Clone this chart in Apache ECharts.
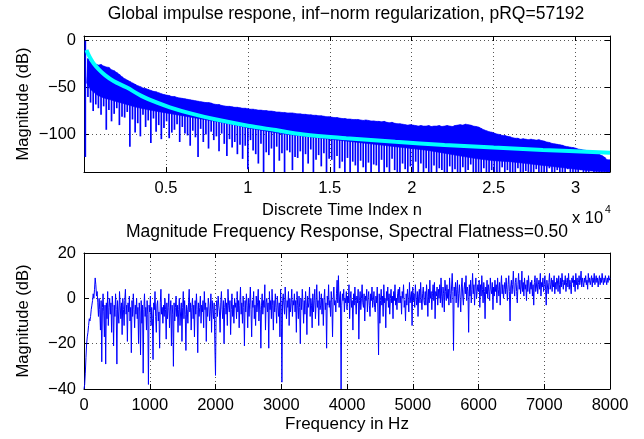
<!DOCTYPE html>
<html><head><meta charset="utf-8">
<script src="https://cdn.jsdelivr.net/npm/echarts@6/dist/echarts.min.js"></script>
<style>html,body{margin:0;padding:0;background:#fff}#c{width:644px;height:439px}</style>
</head><body><div id="c"></div>
<script>
const FONT = '"Liberation Sans", Arial, Helvetica, sans-serif';

// ---------- Top panel: impulse response, per bin of 160 samples: max (topHi) and min (topLo) ----------
const topBinSize = 160;
const topHi = [
  0,-19,-23,-24,-25,-26,-25.5,-27,-28,-28.5,
  -31,-32,-34,-36,-38.5,-40.5,-42,-43.5,-45,-46.5,
  -48,-49,-50.5,-51,-52,-53,-54,-54.5,-55.5,-56.5,
  -57.5,-58,-58.5,-59.5,-59.5,-60.5,-61,-61.5,-62,-62.5,
  -63,-63.5,-64,-64.5,-65,-65.5,-66,-66,-66.5,-67.5,
  -68,-68,-69,-69.5,-70,-70,-70.5,-71,-71,-71.5,
  -72,-72,-72.5,-73,-73,-73.5,-74,-74,-74.5,-74.5,
  -75,-75,-75.5,-76,-76,-76.5,-76.5,-77,-77,-77,
  -77.5,-78,-78,-78.5,-78.5,-79,-79,-79.5,-79.5,-80,
  -80,-80.5,-81,-81,-81.5,-82,-82,-82.5,-83,-83,
  -83.5,-83.5,-84,-84,-84,-84.5,-85,-84.5,-85,-85.5,
  -85.5,-86,-86,-86.5,-86,-87,-87.5,-87,-88,-88.5,
  -88.5,-89,-89.5,-90,-89.5,-90,-90.5,-91,-90.5,-91,
  -91,-90.5,-91.5,-91,-91,-90.5,-91.5,-91,-90.5,-91,
  -91.5,-90.5,-90,-89.5,-90,-89,-89.5,-90,-91,-91.5,
  -92,-93.5,-95,-96,-97,-97.5,-98.5,-99.5,-100,-101,
  -101,-102,-102.5,-103.5,-104,-104,-105,-104.5,-105,-105.5,
  -105,-105.5,-106,-105.5,-106.5,-107,-108,-108.5,-109.5,-110,
  -110.5,-111,-111.5,-112.5,-113,-113.5,-114,-114.5,-115.5,-116,
  -116.5,-117,-117.5,-118,-119,-119.5,-121,-122.5,-124,-127
];
const topLo = [
  -124,-60,-66,-75,-68,-72,-79,-70,-95,-74,
  -86,-78,-72,-90,-81,-82,-76,-113,-84,-98,
  -88,-102,-79,-92,-85,-109,-83,-97,-90,-105,
  -93,-86,-104,-98,-95,-89,-108,-92,-99,-101,
  -112,-96,-103,-124,-94,-108,-100,-115,-97,-106,
  -102,-118,-99,-110,-123,-105,-114,-108,-121,-111,
  -126,-112,-137,-106,-117,-121,-131,-110,-140,-119,
  -122,-115,-140,-113,-128,-120,-140,-117,-119,-138,
  -124,-125,-118,-140,-121,-131,-116,-140,-127,-122,
  -134,-120,-140,-126,-127,-140,-123,-136,-129,-140,
  -125,-140,-129,-133,-140,-128,-135,-140,-130,-140,
  -132,-133,-140,-127,-140,-135,-140,-126,-138,-140,
  -140,-131,-137,-140,-134,-140,-129,-140,-131,-140,
  -136,-140,-140,-133,-140,-136,-138,-140,-140,-134,
  -140,-137,-140,-140,-135,-140,-138,-132,-140,-140,
  -140,-140,-136,-140,-140,-138,-140,-140,-140,-135,
  -140,-138,-140,-140,-140,-136,-140,-140,-139,-140,
  -140,-140,-137,-140,-140,-140,-140,-136,-140,-140,
  -138,-140,-140,-140,-137,-140,-140,-140,-140,-138,
  -140,-140,-140,-139,-140,-140,-140,-140,-140,-140
];
// lower edge of the densely filled part of the band
const solidN  = [160,400,800,1200,1600,2000,2600,3200,4000,5000,6000,7000,8000,9000,10000,11000,12000,13000,14000,15000,16000,17000,18000,19000,20000,21000,22000,23000,24000,25000,26000,27000,28000,29000,30000,31000,32100];
const solidDb = [-45,-52,-58,-61,-63,-65,-68,-71,-74,-77,-80,-83,-86,-89,-93,-96,-99,-101,-103,-105,-107,-109,-111,-113,-115,-117,-120,-123,-126,-128,-129,-131,-133,-135,-137,-139,-140];
// cyan envelope curve
const envN  = [150,250,400,600,900,1300,1800,2620,3500,4500,5240,6500,8000,10000,11700,13400,16000,19000,22000,25000,28000,32100];
const envDb = [-10,-14,-19,-24.5,-30.5,-37,-43,-50,-58.8,-66.4,-71,-77.5,-83.8,-90.6,-95.3,-100,-104,-107.8,-111.1,-114,-116.5,-119.5];
const topXMax = 32100;
const topXTicks = [5000,10000,15000,20000,25000,30000];
const topYTicks = [-100,-50,0];

// ---------- Bottom panel: magnitude frequency response (10 Hz steps) ----------
const freqStep = 10;
const freqDb = [
  -40,-38,-33,-26,-20,-17,-15,-12,-9,-10,-8,-5,-3,-1,2,0,4,9,6,1,3,-2,-8,0,-5,-14,-1,-28,-4,2,-6,-17,-3,-29,-2,-9,3,-12,-4,0,
  -7,-2,-15,1,-4,-21,-3,-8,2,-5,-29,-1,-6,-11,3,-3,-9,-2,-16,0,-5,-12,-1,4,-7,-3,-19,-2,-6,1,-10,-4,-24,-1,-8,2,-5,-13,-3,-7,
  0,-9,-4,-20,-2,-6,-25,-1,-11,-3,-33,-5,2,-8,-4,-14,-1,-7,-38,-3,-6,1,-12,-4,-9,-27,-2,-5,3,-8,-15,-3,-1,-10,-6,-22,-2,4,-7,-4,
  -11,-3,-8,0,-5,-18,-2,-9,-4,2,-13,-6,-1,-21,-3,-7,-30,-2,-10,-4,1,-8,-3,-15,-5,0,-12,-6,-2,-19,-4,3,-9,-1,-7,-23,-3,-5,-11,-2,
  4,-6,-2,-14,-4,0,-9,-3,-17,-1,-7,2,-5,-24,-2,-8,-4,1,-11,-3,-6,-1,-13,3,-5,-2,-19,-4,-8,0,-3,-10,-6,2,-15,-1,-5,-9,-2,-20,
  -34,-4,-1,-8,1,-3,-6,-15,-2,3,-5,-9,-1,-20,-4,0,-7,-2,-12,4,-3,-6,-1,-16,-5,2,-8,-3,-11,0,-4,-2,-9,3,-6,-1,-13,-3,5,-7,
  -2,-11,1,-4,-21,-1,-6,2,-3,-13,0,-8,-2,5,-5,-17,-1,-4,3,-9,-3,-12,1,-6,-2,4,-10,-1,-5,-22,-3,2,-7,-1,-4,6,-14,-2,0,-6,
  -2,-22,3,-5,-1,-9,4,-3,-14,-1,-6,2,-4,-11,1,-3,-8,-2,-17,4,-5,-37,-1,2,-3,-7,5,-2,-9,-1,-4,3,-12,0,-6,-2,4,-8,-1,-3,
  2,-6,-1,-15,3,-3,-9,1,-4,-20,0,-5,4,-2,-11,-1,-7,3,-3,-16,1,-4,-2,5,-8,0,-3,-13,2,-6,-1,4,-9,-2,6,-4,-1,-12,3,-5,
  -3,2,-7,0,-12,-1,4,-5,-2,-22,1,-3,6,-4,-1,-8,3,-2,-17,0,5,-3,-1,-6,2,8,-2,10,-4,1,3,-40,-3,2,-1,4,-6,0,-2,3,
  -5,1,-2,6,-9,0,3,-4,-1,-14,2,-3,5,-1,-7,1,-2,4,-18,-1,3,-5,0,6,-2,-4,2,-10,1,-1,4,-6,0,3,-3,-8,2,-1,5,-4,
  -1,3,-4,-6,1,-2,5,-6,-25,2,-11,-1,4,-3,1,-8,6,-2,0,-13,3,-1,5,-4,2,-7,0,4,-2,1,-9,3,-1,6,-3,0,-5,2,4,-2,
  5,-2,1,-7,3,0,6,-4,-1,-10,2,-3,4,0,-6,7,-2,1,3,-12,5,-1,2,-4,6,0,-3,3,-8,1,4,-2,7,0,-5,2,5,-1,-3,3,
  -3,6,1,-8,4,-2,8,0,3,-5,2,6,-1,7,-9,3,1,5,-3,4,0,6,-2,9,1,-4,5,2,-6,8,3,-1,6,0,4,-3,9,2,-2,5,
  11,3,-23,5,1,7,-2,4,8,-4,2,6,0,-6,5,9,1,-3,4,7,2,10,-1,5,3,-15,6,1,8,-2,4,11,2,6,-3,5,9,0,3,6,
  3,8,-4,6,1,10,4,-2,7,3,-9,5,2,8,0,6,3,-1,9,4,2,7,-5,5,1,8,3,6,-2,9,4,1,7,-3,5,10,2,6,0,4,
  7,2,9,4,-1,6,10,3,-10,5,8,2,6,12,4,1,7,9,3,-2,6,11,4,8,2,5,12,3,7,1,9,4,6,-1,8,3,10,5,2,7,
  4,8,1,6,-3,7,10,3,5,9,2,6,8,4,11,1,7,5,9,3,6,10,4,-3,8,5,2,7,11,4,6,9,3,8,5,10,2,7,4,9,
  8,3,10,6,2,9,5,11,7,4,8,6,10,3,7,9,5,11,4,8,6,2,9,7,10,5,8,3,11,6,9,4,7,10,6,8,12,5,9,7,
  5,9,7,10,6,8,4,11,7,9,6,8,10,5,9,7,11,6,8,10,7,9,5,8,10,6,9,7,11,8,6,9,7,10,8,6,9,7,10,8,
  9
];
const freqXTicks = [0,1000,2000,3000,4000,5000,6000,7000,8000];
const freqYTicks = [-40,-20,0,20];

// ---------- build ----------
const binCenter = i => i * topBinSize + topBinSize / 2;
const topBins = topHi.map((h, i) => [binCenter(i), h, topLo[i]]);
const envData = envN.map((n, i) => [n, envDb[i]]);
const freqData = freqDb.map((v, i) => [i * freqStep, v]);

const minus = v => String(v).replace('-', '\u2212');
const gridLine = { show: true, lineStyle: { color: '#555', width: 1, type: [1, 3] } };
const axLine = { show: true, onZero: false, lineStyle: { color: '#000', width: 1 } };
const lbl = (extra) => Object.assign({ color: '#000', fontSize: 16.5, fontFamily: FONT }, extra);
const tick = (ticks) => ({ show: true, inside: true, length: 5, customValues: ticks, lineStyle: { color: '#000' } });

function xPair(gi, min, max, ticks, fmt) {
  return [
    { type: 'value', gridIndex: gi, position: 'bottom', min, max, axisLine: axLine, axisTick: tick(ticks),
      axisLabel: lbl({ customValues: ticks, formatter: fmt, margin: 8 }), splitLine: gridLine },
    { type: 'value', gridIndex: gi, position: 'top', min, max, axisLine: axLine, axisTick: tick(ticks),
      axisLabel: { show: false }, splitLine: { show: false } }
  ];
}
function yPair(gi, min, max, ticks) {
  return [
    { type: 'value', gridIndex: gi, position: 'left', min, max, axisLine: axLine, axisTick: tick(ticks),
      axisLabel: lbl({ customValues: ticks, formatter: minus, margin: 8 }), splitLine: gridLine },
    { type: 'value', gridIndex: gi, position: 'right', min, max, axisLine: axLine, axisTick: tick(ticks),
      axisLabel: { show: false }, splitLine: { show: false } }
  ];
}

const txt = (x, y, text, size, extra) => Object.assign({
  type: 'text', x, y, silent: true,
  style: { text, fontSize: size, fontFamily: FONT, fill: '#000', align: 'center', verticalAlign: 'middle' }
}, extra || {});

const chart = echarts.init(document.getElementById('c'), null, { renderer: 'canvas' });
chart.setOption({
  animation: false,
  backgroundColor: '#fff',
  grid: [
    { left: 84, top: 36, width: 526, height: 136 },
    { left: 84, top: 253, width: 526, height: 136 }
  ],
  xAxis: [
    ...xPair(0, 0, topXMax, topXTicks, v => String(v / 10000)),
    ...xPair(1, 0, 8000, freqXTicks, v => String(v))
  ],
  yAxis: [
    ...yPair(0, -140, 5, topYTicks),
    ...yPair(1, -40, 20, freqYTicks)
  ],
  series: [
    // dense filled part of the band
    { type: 'custom', xAxisIndex: 0, yAxisIndex: 0, clip: true, silent: true,
      data: [[solidN[0], solidDb[0]]],
      renderItem(params, api) {
        const pts = [];
        for (let i = 1; i < topHi.length; i++) pts.push(api.coord([binCenter(i), topHi[i]]));
        pts.push(api.coord([topXMax, topHi[topHi.length - 1]]));
        for (let j = solidN.length - 1; j >= 0; j--) pts.push(api.coord([solidN[j], solidDb[j]]));
        return { type: 'polygon', shape: { points: pts }, style: { fill: '#0000ff', stroke: '#0000ff', lineWidth: 0.6 } };
      }, z: 2 },
    // per-bin extent (thin spikes)
    { type: 'custom', xAxisIndex: 0, yAxisIndex: 0, clip: true, silent: true,
      data: topBins, encode: { x: 0, y: [1, 2] },
      renderItem(params, api) {
        const n = api.value(0);
        const a = api.coord([n, api.value(1)]);
        const b = api.coord([n, api.value(2)]);
        return { type: 'line', shape: { x1: a[0], y1: a[1], x2: b[0], y2: b[1] },
                 style: { stroke: '#0000ff', lineWidth: 1.7 } };
      }, z: 2 },
    { type: 'line', xAxisIndex: 0, yAxisIndex: 0, data: envData, smooth: 0.35,
      showSymbol: false, lineStyle: { color: '#00ffff', width: 4 }, z: 3, silent: true },
    { type: 'line', xAxisIndex: 2, yAxisIndex: 2, data: freqData, showSymbol: false,
      lineStyle: { color: '#0000ff', width: 1 }, z: 2, silent: true, clip: true }
  ],
  graphic: [
    txt(346, 14, 'Global impulse respone, inf\u2212norm regularization, pRQ=57192', 17.5),
    txt(342, 210, 'Discrete Time Index n', 16.5),
    txt(572, 218, 'x 10', 17, { style: { text: 'x 10', fontSize: 16.5, fontFamily: FONT, fill: '#000', align: 'left', verticalAlign: 'middle' } }),
    txt(608, 210, '4', 10.5),
    txt(347, 232, 'Magnitude Frequency Response, Spectral Flatness=0.50', 17.5),
    txt(347, 424, 'Frequency in Hz', 17),
    txt(23, 104, 'Magnitude (dB)', 16.5, { rotation: Math.PI / 2 }),
    txt(23, 321, 'Magnitude (dB)', 16.5, { rotation: Math.PI / 2 })
  ]
});
</script></body></html>
